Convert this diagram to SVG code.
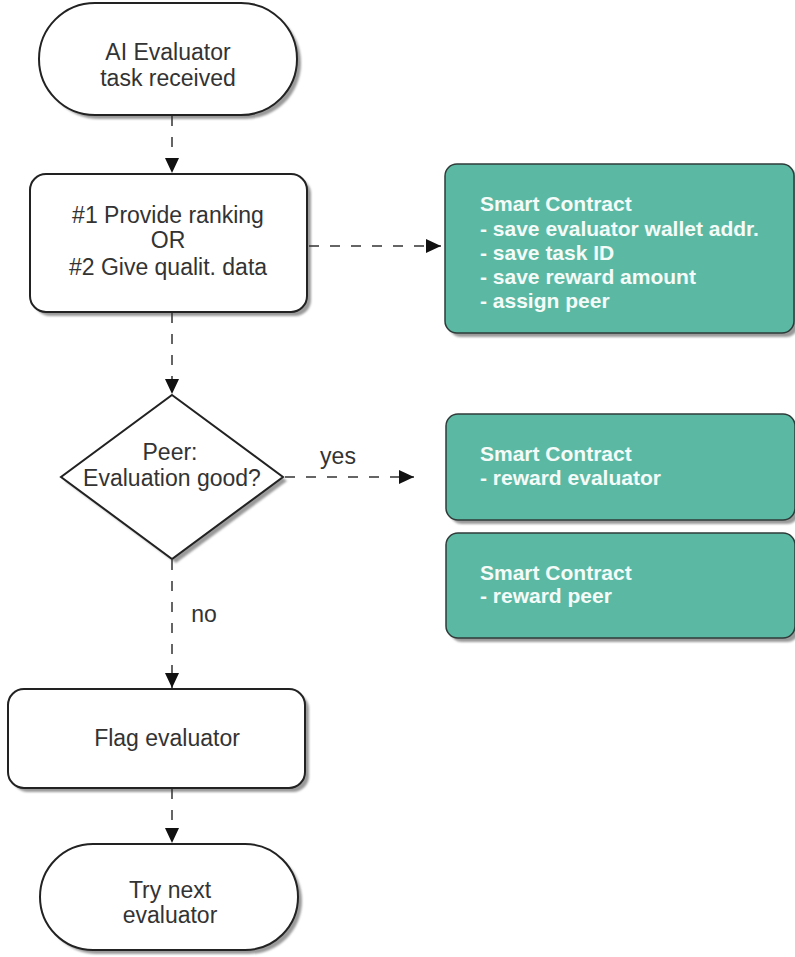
<svg xmlns="http://www.w3.org/2000/svg" width="795" height="957" viewBox="0 0 795 957">
<style>
.n{fill:#fff;stroke:#222;stroke-width:2}
.sc{fill:#5bb9a3;stroke:#2e3b38;stroke-width:1.5}
.sh{fill:#9a9a9a;filter:url(#blur)}
.t{font-family:"Liberation Sans",Arial,sans-serif;font-size:23px;fill:#333;text-anchor:middle}
.w{font-family:"Liberation Sans",Arial,sans-serif;font-size:21px;font-weight:bold;fill:#f4fbf9}
.c{stroke:#333;stroke-width:1.5;stroke-dasharray:10,11;fill:none}
</style>
<defs>
<filter id="blur" x="-10%" y="-10%" width="120%" height="130%"><feGaussianBlur stdDeviation="1.2"/></filter>
<marker id="ah" viewBox="0 0 15 14" refX="15" refY="7" markerWidth="15" markerHeight="14" markerUnits="userSpaceOnUse" orient="auto"><path d="M0,0 L15,7 L0,14 Z" fill="#111"/></marker>
</defs>
<g id="start">
<rect class="sh" x="43" y="7" width="258" height="112" rx="56"/>
<rect class="n" x="39" y="3" width="258" height="112" rx="56"/>
<text class="t" x="168" y="60">AI Evaluator</text>
<text class="t" x="168" y="86">task received</text>
</g>
<g id="provide">
<rect class="sh" x="34" y="178" width="277" height="138" rx="16"/>
<rect class="n" x="30" y="174" width="277" height="138" rx="16"/>
<text class="t" x="168" y="223">#1 Provide ranking</text>
<text class="t" x="168" y="248">OR</text>
<text class="t" x="168" y="275">#2 Give qualit. data</text>
</g>
<g id="sc1">
<rect class="sh" x="449" y="168" width="349" height="169" rx="12"/>
<rect class="sc" x="445" y="164" width="349" height="169" rx="12"/>
<text class="w" x="480" y="211">Smart Contract</text>
<text class="w" x="480" y="236">- save evaluator wallet addr.</text>
<text class="w" x="480" y="260">- save task ID</text>
<text class="w" x="480" y="284">- save reward amount</text>
<text class="w" x="480" y="308">- assign peer</text>
</g>
<g id="decision">
<polygon class="sh" points="176,399 287,481 176,563 65,481"/>
<polygon class="n" points="172,395 283,477 172,559 61,477"/>
<text class="t" x="170" y="460">Peer:</text>
<text class="t" x="172" y="486">Evaluation good?</text>
</g>
<g id="sc2">
<rect class="sh" x="450" y="418" width="349" height="106" rx="12"/>
<rect class="sc" x="446" y="414" width="349" height="106" rx="12"/>
<text class="w" x="480" y="461">Smart Contract</text>
<text class="w" x="480" y="485">- reward evaluator</text>
</g>
<g id="sc3">
<rect class="sh" x="450" y="537" width="349" height="105" rx="12"/>
<rect class="sc" x="446" y="533" width="349" height="105" rx="12"/>
<text class="w" x="480" y="580">Smart Contract</text>
<text class="w" x="480" y="603">- reward peer</text>
</g>
<g id="flag">
<rect class="sh" x="12" y="693" width="297" height="99" rx="16"/>
<rect class="n" x="8" y="689" width="297" height="99" rx="16"/>
<text class="t" x="167" y="746">Flag evaluator</text>
</g>
<g id="next">
<rect class="sh" x="44" y="848" width="258" height="106" rx="53"/>
<rect class="n" x="40" y="844" width="258" height="106" rx="53"/>
<text class="t" x="170" y="898">Try next</text>
<text class="t" x="170" y="923">evaluator</text>
</g>
<g id="connectors">
<line class="c" x1="172" y1="116" x2="172" y2="173" marker-end="url(#ah)"/>
<line class="c" x1="309" y1="246" x2="441" y2="246" marker-end="url(#ah)"/>
<line class="c" x1="172" y1="313" x2="172" y2="394" marker-end="url(#ah)"/>
<line class="c" x1="285" y1="477" x2="414" y2="477" marker-end="url(#ah)"/>
<line class="c" x1="172" y1="560" x2="172" y2="688" marker-end="url(#ah)"/>
<line class="c" x1="172" y1="789" x2="172" y2="843" marker-end="url(#ah)"/>
<text class="t" x="338" y="464">yes</text>
<text class="t" x="204" y="622">no</text>
</g>
</svg>
